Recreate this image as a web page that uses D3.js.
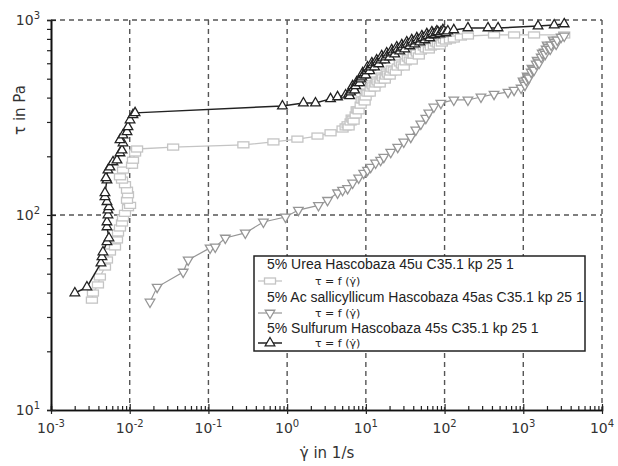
<!DOCTYPE html>
<html>
<head>
<meta charset="utf-8">
<script src="https://cdn.jsdelivr.net/npm/d3@7"></script>
<style>
  body { margin: 0; background: #fff; }
  svg { display: block; }
</style>
</head>
<body>
<script>
// tick labels
const xTicks = [1e-3, 1e-2, 1e-1, 1e0, 1e1, 1e2, 1e3, 1e4];
const yTicks = [1e1, 1e2, 1e3];

// Urea (light gray, squares): shear rate in 1/s, shear stress in Pa
const ureaRate = [0.00331, 0.00341, 0.00395, 0.00418, 0.00485, 0.00514, 0.00561, 0.0065, 0.00689, 0.0071,
  0.00752, 0.00798, 0.00822, 0.00871, 0.00951, 0.0101, 0.00924, 0.00951, 0.00924, 0.00871,
  0.00798, 0.00752, 0.00822, 0.0107, 0.011, 0.0117, 0.0124, 0.0356, 0.278, 0.669,
  1.35, 2.43, 3.56, 5.06, 5.53, 5.86, 6.04, 6.4, 6.6, 6.79,
  6.99, 7.42, 7.64, 7.86, 8.1, 8.59, 8.84, 9.38, 9.65, 9.94,
  10.2, 10.5, 11.2, 11.5, 11.9, 12.2, 12.9, 13.3, 13.7, 14.1,
  15.0, 15.4, 15.9, 16.4, 17.4, 17.9, 18.4, 19.0, 20.1, 20.7,
  21.3, 22.6, 24.0, 25.4, 27.0, 28.6, 30.3, 32.1, 34.1, 36.1,
  38.3, 40.6, 43.1, 44.4, 47.1, 49.9, 54.5, 57.8, 63.1, 66.9,
  73.1, 77.5, 82.1, 87.1, 92.4, 98.0, 104, 117, 131, 161,
  198, 425, 764, 1370, 3310];
const ureaStress = [36.6, 39.8, 43.8, 48.1, 54.1, 58.8, 64.6, 68.6, 74.5, 80.9,
  85.8, 91.0, 96.6, 102, 109, 112, 119, 127, 134, 143,
  151, 157, 170, 180, 191, 208, 218, 223, 229, 237,
  245, 254, 264, 276, 283, 290, 283, 300, 314, 310,
  303, 326, 346, 346, 342, 366, 389, 389, 380, 403,
  427, 422, 422, 448, 470, 459, 448, 470, 492, 481,
  470, 492, 516, 505, 492, 516, 541, 528, 516, 541,
  561, 554, 541, 574, 602, 588, 574, 610, 638, 623,
  616, 661, 693, 677, 654, 693, 727, 710, 702, 727,
  736, 762, 753, 736, 762, 790, 780, 790, 799, 818,
  828, 838, 838, 838, 838];

// Ac sallicyllicum (gray, down triangles)
const acRate = [0.0181, 0.0223, 0.0478, 0.0553, 0.105, 0.122, 0.164, 0.294, 0.499, 0.951,
  1.39, 2.5, 3.26, 4.37, 5.06, 5.86, 6.79, 8.1, 9.38, 10.5,
  11.5, 13.3, 15.4, 16.9, 20.7, 25.4, 30.3, 37.2, 43.1, 49.9,
  57.8, 63.1, 73.1, 89.7, 131, 198, 290, 425, 640, 764,
  938, 994, 1020, 1050, 1090, 1120, 1150, 1180, 1260, 1290,
  1330, 1370, 1460, 1500, 1540, 1590, 1690, 1740, 1840, 1900,
  1950, 2010, 2070, 2200, 2260, 2400, 2470, 2620, 2700, 3030,
  3310];
const acStress = [35.8, 42.7, 51.0, 58.8, 67.8, 68.6, 76.2, 80.9, 92.1, 97.7,
  106, 112, 119, 130, 134, 137, 146, 155, 164, 170,
  176, 185, 191, 198, 210, 223, 237, 251, 273, 293,
  314, 334, 358, 375, 389, 389, 403, 417, 427, 437,
  448, 487, 476, 464, 492, 516, 511, 505, 541, 567,
  561, 554, 595, 623, 610, 602, 646, 677, 685, 669,
  710, 745, 727, 710, 745, 790, 771, 753, 790, 818,
  828];

// Sulfurum (black, up triangles)
const sulfRate = [0.00201, 0.00286, 0.00431, 0.00444, 0.00457, 0.00514, 0.00545, 0.00514, 0.00514, 0.00529,
  0.00529, 0.00545, 0.00514, 0.00485, 0.00485, 0.00514, 0.00499, 0.00529, 0.00561, 0.00613,
  0.00689, 0.00752, 0.00798, 0.00822, 0.00752, 0.00822, 0.00924, 0.00951, 0.0101, 0.011,
  0.0117, 0.871, 1.61, 2.29, 3.56, 4.37, 5.53, 6.04, 6.22, 6.4,
  6.6, 6.79, 6.99, 7.2, 7.42, 7.64, 7.86, 8.1, 8.34, 8.59,
  8.84, 9.11, 9.38, 9.65, 9.94, 10.2, 10.5, 10.9, 11.2, 11.5,
  11.9, 12.2, 12.9, 13.3, 13.7, 14.1, 14.6, 15.4, 15.9, 16.4,
  17.4, 17.9, 18.4, 19.0, 20.1, 20.7, 21.3, 21.9, 23.3, 24.0,
  24.7, 25.4, 27.0, 27.8, 28.6, 29.4, 31.2, 32.1, 33.1, 34.1,
  36.1, 37.2, 38.3, 39.5, 41.8, 43.1, 44.4, 45.7, 48.5, 49.9,
  51.4, 52.9, 56.1, 57.8, 59.5, 61.3, 64.9, 66.9, 68.9, 71.0,
  75.2, 77.5, 79.8, 82.1, 87.1, 89.7, 95.1, 98.0, 104, 110,
  131, 198, 356, 478, 1540, 2470, 3310];
const sulfStress = [39.8, 42.7, 56.7, 61.0, 64.6, 72.8, 76.2, 86.8, 92.1, 100,
  106, 110, 117, 124, 130, 151, 155, 170, 176, 187,
  191, 208, 215, 234, 243, 257, 267, 283, 307, 326,
  334, 362, 375, 375, 394, 403, 412, 417, 408, 427,
  437, 459, 448, 437, 459, 481, 476, 486, 476, 498,
  510, 535, 522, 535, 522, 548, 574, 561, 548, 574,
  602, 588, 574, 602, 623, 610, 595, 623, 654, 638,
  623, 646, 677, 661, 646, 677, 702, 685, 669, 702,
  727, 710, 693, 718, 745, 727, 710, 745, 771, 753,
  736, 762, 790, 771, 753, 780, 809, 790, 771, 799,
  828, 809, 790, 818, 848, 828, 809, 838, 868, 848,
  838, 858, 878, 868, 848, 868, 889, 878, 858, 878,
  889, 910, 910, 910, 931, 942, 954];

const seriesNames = [
  "5% Urea Hascobaza 45u C35.1 kp 25 1",
  "5% Ac sallicyllicum Hascobaza 45as C35.1 kp 25 1",
  "5% Sulfurum Hascobaza 45s C35.1 kp 25 1"
];

const series = [
  { name: seriesNames[0], rate: ureaRate, stress: ureaStress, color: "#c4c4c4", shape: "square", lw: 1.3 },
  { name: seriesNames[1], rate: acRate, stress: acStress, color: "#969696", shape: "down", lw: 1.2 },
  { name: seriesNames[2], rate: sulfRate, stress: sulfStress, color: "#222", shape: "up", lw: 1.5 }
];

const width = 618, height = 466;
const svg = d3.select("body").append("svg")
  .attr("width", width)
  .attr("height", height)
  .style("font-family", "'DejaVu Sans', sans-serif");

const x = d3.scaleLog().domain([1e-3, 1e4]).range([51, 602]);
const y = d3.scaleLog().domain([10, 1000]).range([410, 20]);

// dashed grid (includes top and right frame)
const grid = svg.append("g").attr("stroke", "#555").attr("stroke-width", 1.4).attr("stroke-dasharray", "5,4");
grid.selectAll(".vg").data(xTicks.slice(1)).enter().append("line")
  .attr("x1", d => x(d)).attr("x2", d => x(d))
  .attr("y1", y(1000)).attr("y2", y(10));
grid.selectAll(".hg").data(yTicks.slice(1)).enter().append("line")
  .attr("x1", x(1e-3)).attr("x2", x(1e4))
  .attr("y1", d => y(d)).attr("y2", d => y(d));

// minor ticks
const minorX = [];
xTicks.slice(0, -1).forEach(t => { for (let k = 2; k < 10; k++) minorX.push(t * k); });
const minorY = [];
yTicks.slice(0, -1).forEach(t => { for (let k = 2; k < 10; k++) minorY.push(t * k); });

// x axis
const xAxis = svg.append("g").attr("transform", `translate(0,${y(10)})`);
xAxis.call(d3.axisBottom(x).tickValues(minorX).tickSize(-4).tickFormat(""));
xAxis.append("g").call(d3.axisBottom(x).tickValues(xTicks).tickSizeInner(4).tickSizeOuter(0).tickFormat(""));
xAxis.append("g").call(d3.axisBottom(x).tickValues(xTicks).tickSize(-6).tickFormat("")).select(".domain").remove();
xAxis.selectAll(".domain").attr("stroke", "#111").attr("stroke-width", 1.6);
xAxis.selectAll(".tick line").attr("stroke", "#222").attr("stroke-width", 1.2);

// y axis
const yAxis = svg.append("g").attr("transform", `translate(${x(1e-3)},0)`);
yAxis.call(d3.axisLeft(y).tickValues(minorY).tickSize(4).tickFormat(""));
yAxis.append("g").call(d3.axisLeft(y).tickValues(yTicks).tickSizeInner(4).tickSizeOuter(0).tickFormat(""));
yAxis.append("g").call(d3.axisLeft(y).tickValues(yTicks).tickSize(-5).tickFormat("")).select(".domain").remove();
yAxis.selectAll(".domain").attr("stroke", "#111").attr("stroke-width", 1.6);
yAxis.selectAll(".tick line").attr("stroke", "#222").attr("stroke-width", 1.2);

// tick labels with superscript exponents
const expOf = d => Math.round(Math.log10(d));
const tl = svg.append("g").attr("font-size", 14).attr("fill", "#333");
xTicks.forEach(t => {
  const tx = tl.append("text").attr("x", x(t)).attr("y", 433).attr("text-anchor", "middle");
  tx.append("tspan").text("10");
  tx.append("tspan").attr("dy", -6).attr("font-size", 10).text(expOf(t) < 0 ? "-" + (-expOf(t)) : expOf(t));
});
yTicks.forEach(t => {
  const ty = tl.append("text").attr("x", 40).attr("y", y(t) + 5).attr("text-anchor", "end");
  ty.append("tspan").text("10");
  ty.append("tspan").attr("dy", -6).attr("font-size", 10).text(expOf(t));
});

// axis titles
svg.append("text").attr("x", 327).attr("y", 458).attr("text-anchor", "middle")
  .attr("font-size", 15).attr("fill", "#333").text("\u03b3\u0307 in 1/s");
svg.append("text").attr("transform", "translate(25,110) rotate(-90)").attr("text-anchor", "middle")
  .attr("font-size", 15).attr("fill", "#333").text("\u03c4 in Pa");

// markers
function marker(sel, shape, color) {
  if (shape === "square") {
    sel.append("rect").attr("x", -5.5).attr("y", -3).attr("width", 11).attr("height", 6)
      .attr("fill", "#fff").attr("stroke", color).attr("stroke-width", 1.3);
  } else {
    sel.append("path").attr("d", d3.symbol(d3.symbolTriangle, 40)())
      .attr("transform", shape === "down" ? "rotate(180)" : null)
      .attr("fill", "#fff").attr("stroke", color).attr("stroke-width", 1.3);
  }
}

const line = d3.line().x(d => x(d[0])).y(d => y(d[1]));
series.forEach(s => {
  const pts = s.rate.map((r, i) => [r, s.stress[i]]);
  const g = svg.append("g");
  g.append("path").datum(pts).attr("d", line)
    .attr("fill", "none").attr("stroke", s.color).attr("stroke-width", s.lw);
  g.selectAll(".pt").data(pts).enter().append("g")
    .attr("transform", d => `translate(${x(d[0])},${y(d[1])})`)
    .each(function () { marker(d3.select(this), s.shape, s.color); });
});

// legend
const lg = svg.append("g").attr("font-family", "'Liberation Sans', Arial, sans-serif");
lg.append("rect").attr("x", 254).attr("y", 256).attr("width", 331).attr("height", 95)
  .attr("fill", "#fff").attr("stroke", "#222").attr("stroke-width", 1.5);
const rowY = [269, 302, 333];
const symY = [281, 313, 343];
series.forEach((s, i) => {
  lg.append("text").attr("x", 267).attr("y", rowY[i]).attr("font-size", 14).attr("fill", "#222").text(s.name);
  const sy = symY[i];
  lg.append("line").attr("x1", 258).attr("x2", 282).attr("y1", sy).attr("y2", sy)
    .attr("stroke", s.color).attr("stroke-width", s.lw);
  marker(lg.append("g").attr("transform", `translate(270,${sy})`), s.shape, s.color);
  lg.append("text").attr("x", 315).attr("y", sy + 4).attr("font-size", 11).attr("fill", "#222")
    .attr("font-family", "'DejaVu Sans', sans-serif").text("\u03c4 = f (\u03b3\u0307)");
});
</script>
</body>
</html>
